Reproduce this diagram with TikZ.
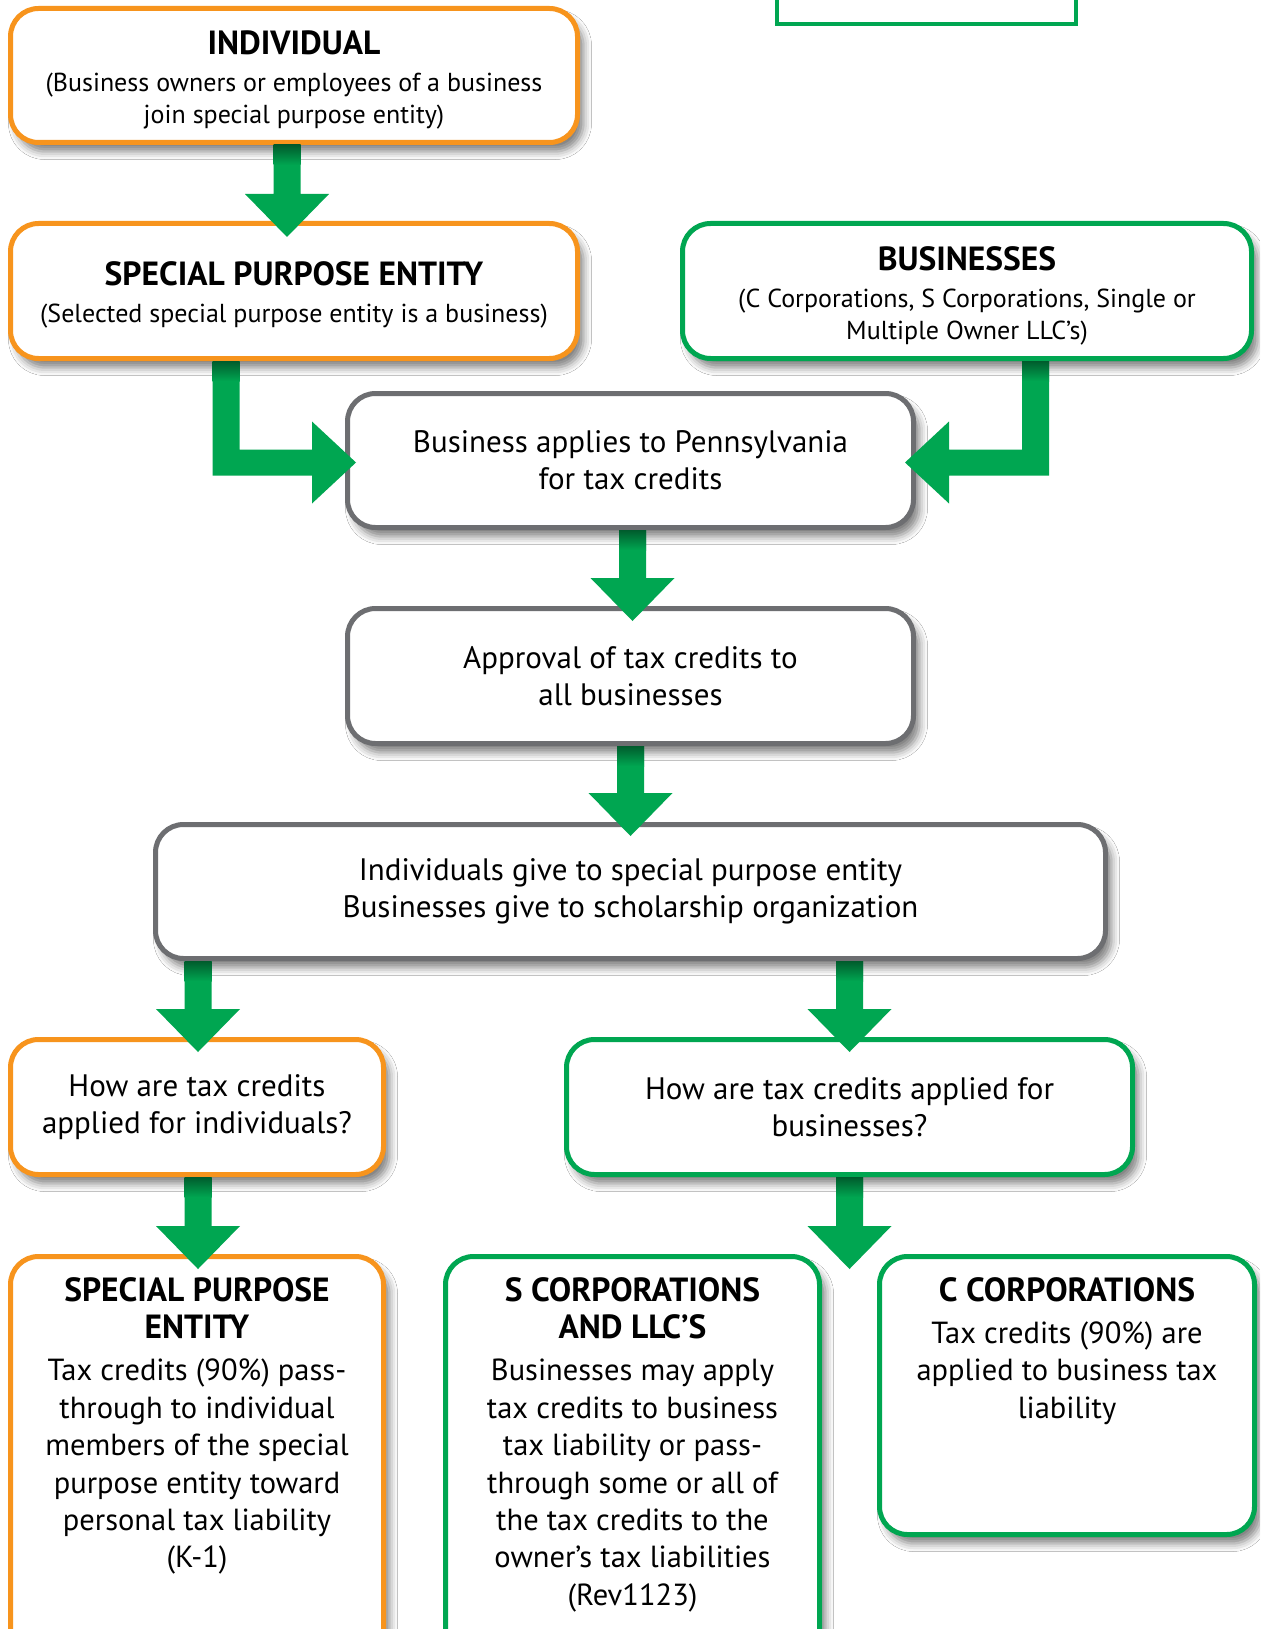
\documentclass[tikz,border=0pt]{standalone}
\usepackage{fontspec}
\setmainfont{PT Sans}
\usetikzlibrary{calc,shadows.blur}
\definecolor{og}{HTML}{F7941D}
\definecolor{gn}{HTML}{00A651}
\definecolor{gy}{HTML}{6D6E71}

% block arrow pointing down: #1 start, #2 tip
\newcommand\arrdown[2]{%
 \fill[gn] let \p1=#1, \p2=#2 in (\x2-13.5pt,\y1) -- (\x2-13.5pt,\y2+43pt) -- (\x2-42pt,\y2+43pt) -- (\x2,\y2) -- (\x2+42pt,\y2+43pt) -- (\x2+13.5pt,\y2+43pt) -- (\x2+13.5pt,\y1) -- cycle;
 \shade[top color=gn!55!black, bottom color=gn] let \p1=#1, \p2=#2 in (\x2-13.5pt,\y1) rectangle (\x2+13.5pt,\y1-20pt);}
% elbow arrow: #1 start (top of vertical shaft), #2 tip, #3 direction (1 right, -1 left)
\newcommand\arrelbow[3]{%
 \fill[gn] let \p1=#1, \p2=#2, \n1={#3} in (\x1-\n1*13.5pt,\y1) -- (\x1-\n1*13.5pt,\y2-13pt) -- (\x2-\n1*44pt,\y2-13pt) -- (\x2-\n1*44pt,\y2-41pt) -- (\x2,\y2) -- (\x2-\n1*44pt,\y2+41pt) -- (\x2-\n1*44pt,\y2+13pt) -- (\x1+\n1*13.5pt,\y2+13pt) -- (\x1+\n1*13.5pt,\y1) -- cycle;
 \shade[top color=gn!55!black, bottom color=gn] let \p1=#1 in (\x1-13.5pt,\y1) rectangle (\x1+13.5pt,\y1-20pt);}

\tikzset{
 box/.style={draw, line width=5pt, rounded corners=28pt, fill=white, align=center, inner sep=0pt,
   blur shadow={shadow xshift=6pt, shadow yshift=-9pt, shadow blur radius=8pt, shadow opacity=50}},
 obox/.style={box, draw=og},
 gbox/.style={box, draw=gn},
 ybox/.style={box, draw=gy},
 main/.style={font=\fontsize{31}{37.4}\selectfont},
 small/.style={font=\fontsize{26}{32}\selectfont},
 btxt/.style={align=center, inner sep=0pt, anchor=north, font=\fontsize{30.5}{37.4}\selectfont},
 ttxt/.style={align=center, inner sep=0pt, anchor=north, font=\fontsize{26}{32}\selectfont},
}
\newcommand\ttl[1]{{\bfseries\fontsize{33.5}{37.5}\selectfont #1}}

\begin{document}
\begin{tikzpicture}[x=1pt,y=-1pt]
\useasboundingbox (0,0) rectangle (1260,1629);
\clip (0,0) rectangle (1260,1629);
\fill[white] (0,0) rectangle (1260,1629);

\node[draw=gn, line width=4pt, minimum width=299pt, minimum height=80pt, inner sep=0pt] (topbox) at (926.5,-16) {};

\node[obox, minimum width=567pt, minimum height=134pt] (ind) at (294,75.5) {};
\node[obox, minimum width=567pt, minimum height=135pt] (spe) at (294,291) {};
\node[gbox, minimum width=569pt, minimum height=135pt] (bus) at (967,291) {};
\node[ttxt] (indt) at ($(ind.north)+(0,25)$)
 {\ttl{INDIVIDUAL}\\[5pt](Business owners or employees of a business\\join special purpose entity)};
\node[ttxt] (spet) at ($(spe.north)+(0,40)$)
 {\ttl{SPECIAL PURPOSE ENTITY}\\[5pt](Selected special purpose entity is a business)};
\node[ttxt] (bust) at ($(bus.north)+(0,25)$)
 {\ttl{BUSINESSES}\\[5pt](C Corporations, S Corporations, Single or\\Multiple Owner LLC’s)};

\node[ybox, main, minimum width=566pt, minimum height=134pt] (app) at (630.5,460.5)
 {Business applies to Pennsylvania\\for tax credits};
\node[ybox, main, minimum width=566pt, minimum height=135pt] (apr) at (630.5,676)
 {Approval of tax credits to\\all businesses};
\node[ybox, main, minimum width=950pt, minimum height=134pt] (give) at (630.5,891.5)
 {Individuals give to special purpose entity\\Businesses give to scholarship organization};
\node[obox, main, minimum width=373pt, minimum height=135pt] (hi) at (197,1107)
 {How are tax credits\\applied for individuals?};
\node[gbox, main, minimum width=566pt, minimum height=135pt] (hb) at (849.5,1107)
 {How are tax credits applied for\\businesses?};
\node[obox, minimum width=373pt, minimum height=415pt] (spe2) at (197,1464) {};
\node[gbox, minimum width=374pt, minimum height=415pt] (sc) at (632.5,1464) {};
\node[gbox, minimum width=375pt, minimum height=278pt] (cc) at (1067,1395.5) {};

\node[btxt] (spe2t) at ($(spe2.north)+(0,23)$)
 {\ttl{SPECIAL PURPOSE}\\\ttl{ENTITY}\\[5pt]Tax credits (90\%) pass-\\through to individual\\members of the special\\purpose entity toward\\personal tax liability\\(K-1)};
\node[btxt] (sct) at ($(sc.north)+(0,23)$)
 {\ttl{S CORPORATIONS}\\\ttl{AND LLC’S}\\[5pt]Businesses may apply\\tax credits to business\\tax liability or pass-\\through some or all of\\the tax credits to the\\owner’s tax liabilities\\(Rev1123)};
\node[btxt] (cct) at ($(cc.north)+(0,23)$)
 {\ttl{C CORPORATIONS}\\[5pt]Tax credits (90\%) are\\applied to business tax\\liability};

\coordinate (split) at (849.5,1269);

\arrdown{(ind.south)}{($(spe.north)+(-7,16)$)}
\arrelbow{($(spe.south west)+(218,0)$)}{($(app.west)+(11,2)$)}{1}
\arrelbow{($(bus.south east)+(-218.5,0)$)}{($(app.east)+(-11,2)$)}{-1}
\arrdown{(app.south)}{($(apr.north)+(2,15)$)}
\arrdown{(apr.south)}{($(give.north)+(0,14)$)}
\arrdown{($(give.south west)+(42,0)$)}{($(hi.north)+(1,15)$)}
\arrdown{($(give.south east)+(-253,0)$)}{($(hb.north)+(0,15)$)}
\arrdown{(hi.south)}{($(spe2.north)+(1,15)$)}
\arrdown{(hb.south)}{(split)}
\end{tikzpicture}
\end{document}
